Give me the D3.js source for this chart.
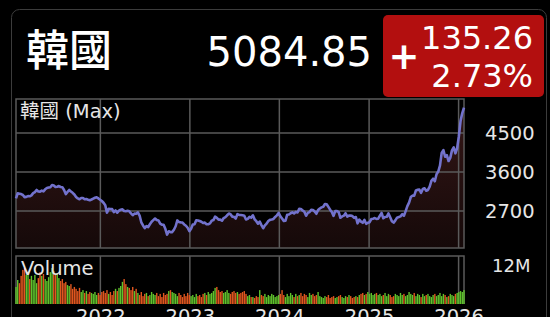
<!DOCTYPE html>
<html><head><meta charset="utf-8">
<script src="https://cdn.jsdelivr.net/npm/d3@7"></script>
<style>html,body{margin:0;padding:0;background:#000;overflow:hidden}</style>
</head><body>
<svg id="c" width="550" height="317"></svg>
<script>
// ---------- data ----------
const title = "韓國";
const lastValue = "5084.85";
const change = "135.26";
const changePct = "2.73%";
const panelLabel = "韓國 (Max)";
const volumeLabel = "Volume";
const priceTicks = [2700, 3600, 4500];
const volumeTicks = [12];
const yearTicks = [2022, 2023, 2024, 2025, 2026];
const startDate = "2021-01-22"; // weekly closes (Fridays)

const close2021 = [2990,3110,3100,3090,3070,3020,3026,3045,3039,3060,3112,3135,3185,3150,3147,3170,3153,3200,3230,3240,3249,3300,3290,3255,3260,3276,3254,3250,3185,3090,3140,3185,3150,3120,3080,3023,2990,2970,3000,3000,2970,2975,2960,2950,2965,2985,3005,3015,2990,2960];
const close2022 = [2930,2890,2834,2663,2750,2747,2744,2676,2713,2661,2707,2729,2739,2700,2696,2704,2695,2644,2604,2639,2638,2670,2595,2440,2366,2305,2350,2330,2393,2451,2490,2527,2492,2481,2409,2384,2382,2290,2155,2232,2212,2213,2268,2348,2483,2444,2437,2434,2389,2360,2313,2236];
const close2023 = [2289,2386,2395,2484,2480,2469,2451,2423,2432,2394,2395,2414,2476,2490,2571,2544,2501,2500,2475,2537,2559,2601,2641,2625,2570,2564,2526,2628,2609,2608,2602,2591,2504,2519,2563,2547,2601,2508,2465,2408,2456,2375,2302,2368,2409,2469,2496,2505,2517,2563,2599,2655];
const close2024 = [2578,2525,2472,2478,2615,2620,2648,2667,2642,2680,2666,2748,2747,2714,2681,2591,2656,2676,2727,2724,2687,2636,2722,2758,2784,2797,2862,2857,2795,2731,2676,2588,2697,2701,2674,2544,2575,2593,2649,2569,2596,2593,2583,2542,2561,2416,2501,2455,2428,2494,2404,2429];
const close2025 = [2441,2515,2523,2536,2517,2522,2591,2654,2532,2563,2566,2643,2557,2465,2432,2483,2546,2559,2577,2626,2592,2697,2812,2894,3021,3055,3054,3175,3188,3196,3119,3210,3225,3168,3186,3260,3396,3445,3386,3549,3610,3748,4040,4107,3953,3990,3853,3926,4100,4167,4030,4150];
const close2026 = [4420,4780,4960,5084.85];

const vol2021 = [5.4,7.6,6.6,8.9,10.8,11.4,9.2,10.1,7.9,8.9,7.6,9.2,6.6,8.2,10.1,8.9,9.5,7.9,7.3,8.5,10.1,11.4,10.5,9.2,9.8,8.2,7.3,7.9,6.6,7.0,6.0,5.7,6.3,4.8,5.4,4.8,4.1,5.1,3.8,4.4,3.5,4.1,3.2,3.8,3.5,3.2,3.8,2.85,3.5,2.85];
const vol2022 = [3.8,4.1,3.5,4.4,3.2,3.8,2.85,4.1,4.8,4.1,5.1,5.7,7.0,7.9,6.3,5.4,5.1,4.4,5.4,4.1,4.8,3.5,2.85,3.8,2.5,3.2,3.5,2.5,2.85,3.8,3.2,2.85,3.5,2.5,3.2,2.2,3.5,2.85,3.2,4.1,4.4,3.8,3.5,3.2,2.5,3.5,2.85,2.2,3.2,2.5,3.5,2.85];
const vol2023 = [2.5,2.85,2.2,3.2,2.5,2.85,2.2,3.2,3.5,2.85,3.8,3.2,3.5,4.1,5.1,5.4,4.4,3.8,4.1,3.5,3.8,4.4,3.5,3.2,3.8,4.1,3.5,3.8,3.2,3.5,3.8,4.1,3.2,2.5,2.85,2.2,2.2,1.9,2.5,2.2,4.4,2.85,2.5,3.2,2.2,2.85,2.5,3.2,2.85,2.2,2.5,2.85];
const vol2024 = [3.2,4.4,2.85,2.2,3.2,2.5,3.5,2.85,2.2,3.2,2.5,2.85,3.5,2.5,3.2,2.85,2.2,3.5,2.85,3.2,2.5,2.85,3.8,2.5,2.2,1.9,2.5,2.2,2.85,1.9,2.2,2.5,1.9,2.2,2.5,2.85,2.2,1.9,2.5,2.2,2.85,2.5,1.9,2.2,2.5,2.2,2.85,3.2,3.5,2.85,3.2,3.8];
const vol2025 = [3.2,3.5,2.85,3.2,3.5,2.85,3.2,2.5,2.85,3.5,2.5,3.2,2.85,2.2,2.5,3.2,2.85,2.5,3.5,2.85,3.2,2.5,2.85,3.8,3.2,2.85,3.5,2.5,3.2,2.85,2.2,3.2,2.5,2.85,3.2,2.5,2.2,2.85,3.2,2.5,2.85,3.5,2.5,3.2,2.85,2.2,2.5,3.2,2.85,2.5,3.2,3.5];
const vol2026 = [3.8,4.1,3.8,4.4];

// ---------- build ----------
const closes = [].concat(close2021, close2022, close2023, close2024, close2025, close2026);
const volumes = [].concat(vol2021, vol2022, vol2023, vol2024, vol2025, vol2026);
const t0 = d3.timeParse("%Y-%m-%d")(startDate);
const data = closes.map((c, i) => ({
  date: d3.timeDay.offset(t0, 7 * i),
  close: c,
  vol: volumes[i],
  up: i === 0 ? true : c >= closes[i - 1]
}));

const svg = d3.select("#c");
const W = 550, H = 317;
svg.append("rect").attr("width", W).attr("height", H).attr("fill", "#000");

// card outline
svg.append("rect").attr("x", 11.5).attr("y", 9.5).attr("width", 535).attr("height", 400)
  .attr("rx", 8).attr("fill", "none").attr("stroke", "#3c3c3c").attr("stroke-width", 1);

const latin = "'DejaVu Sans', sans-serif";
const cjk = "'Noto Sans CJK TC', 'Noto Sans CJK SC', sans-serif";
const mixed = "'DejaVu Sans', 'Noto Sans CJK TC', sans-serif";

// header
svg.append("text").attr("x", 26).attr("y", 66).attr("font-family", cjk).attr("font-size", 43)
  .attr("font-weight", 500).attr("fill", "#fff").text(title);
svg.append("text").attr("x", 372).attr("y", 66).attr("text-anchor", "end").attr("font-family", latin)
  .attr("font-size", 40).attr("fill", "#fff").text(lastValue);
svg.append("rect").attr("x", 383).attr("y", 15).attr("width", 161).attr("height", 82).attr("rx", 5)
  .attr("fill", "#b30f0f");
svg.append("text").attr("x", 404).attr("y", 69).attr("text-anchor", "middle").attr("font-family", latin)
  .attr("font-weight", "bold").attr("font-size", 37).attr("fill", "#fff").text("+");
svg.append("text").attr("x", 533).attr("y", 49).attr("text-anchor", "end").attr("font-family", latin)
  .attr("font-size", 32).attr("fill", "#fff").text(change);
svg.append("text").attr("x", 533).attr("y", 87).attr("text-anchor", "end").attr("font-family", latin)
  .attr("font-size", 32).attr("fill", "#fff").text(changePct);

// scales
const x = d3.scaleTime().domain(d3.extent(data, d => d.date)).range([16, 464]);
const y = d3.scaleLinear().domain([1846, 5285]).range([248, 99]);
const yv = d3.scaleLinear().domain([0, 15.2]).range([304, 256]);
const yearDates = yearTicks.map(yr => new Date(yr, 0, 1));

const gridCol = "#5a5a5a";

// gradient fill
const defs = svg.append("defs");
const grad = defs.append("linearGradient").attr("id", "fillGrad").attr("gradientUnits", "userSpaceOnUse")
  .attr("x1", 0).attr("x2", 0).attr("y1", 99).attr("y2", 248);
grad.append("stop").attr("offset", 0).attr("stop-color", "#361717");
grad.append("stop").attr("offset", 1).attr("stop-color", "#150909");

// price area + line
const area = d3.area().x(d => x(d.date)).y0(248).y1(d => y(d.close));
svg.append("path").datum(data).attr("d", area).attr("fill", "url(#fillGrad)");

// grid (price)
const gp = svg.append("g");
gp.selectAll(".h").data(priceTicks).join("line")
  .attr("x1", 16).attr("x2", 464).attr("y1", d => y(d)).attr("y2", d => y(d))
  .attr("stroke", gridCol).attr("stroke-width", 1.5);
gp.selectAll(".v").data(yearDates).join("line")
  .attr("x1", d => x(d)).attr("x2", d => x(d)).attr("y1", 99).attr("y2", 248)
  .attr("stroke", gridCol).attr("stroke-width", 1.5);
gp.append("rect").attr("x", 16).attr("y", 99).attr("width", 448).attr("height", 149)
  .attr("fill", "none").attr("stroke", gridCol).attr("stroke-width", 1.5);

const line = d3.line().x(d => x(d.date)).y(d => y(d.close));
svg.append("path").datum(data).attr("d", line).attr("fill", "none")
  .attr("stroke", "#7272cc").attr("stroke-width", 2.6).attr("stroke-linejoin", "round");

// volume grid
const gv = svg.append("g");
gv.selectAll("line").data(yearDates).join("line")
  .attr("x1", d => x(d)).attr("x2", d => x(d)).attr("y1", 256).attr("y2", 304)
  .attr("stroke", gridCol).attr("stroke-width", 1.5);
gv.append("path").attr("d", "M16,304V256H464V304")
  .attr("fill", "none").attr("stroke", gridCol).attr("stroke-width", 1.5);

// volume bars
svg.append("g").selectAll("rect").data(data).join("rect")
  .attr("x", d => x(d.date) - 0.7).attr("width", 1.4)
  .attr("y", d => yv(d.vol)).attr("height", d => 304 - yv(d.vol))
  .attr("fill", d => d.up ? "#5fc22c" : "#e0561f");

// labels
svg.append("text").attr("x", 20).attr("y", 118).attr("font-family", mixed).attr("font-size", 19.5)
  .attr("fill", "#e6e6e6").text(panelLabel);
svg.append("text").attr("x", 21).attr("y", 275).attr("font-family", latin).attr("font-size", 19.5)
  .attr("fill", "#e6e6e6").text(volumeLabel);

// axes
const ay = svg.append("g").attr("transform", "translate(480,0)")
  .call(d3.axisRight(y).tickValues(priceTicks).tickSize(0).tickPadding(5).tickFormat(d3.format("d")));
const av = svg.append("g").attr("transform", "translate(480,0)")
  .call(d3.axisRight(yv).tickValues(volumeTicks).tickSize(0).tickPadding(12).tickFormat(d => d + "M"));
const ax = svg.append("g").attr("transform", "translate(0,304)")
  .call(d3.axisBottom(x).tickValues(yearDates).tickSize(0).tickPadding(5).tickFormat(d3.timeFormat("%Y")));
[ay, ax].forEach(g => {
  g.select(".domain").remove();
  g.selectAll("text").attr("font-family", latin).attr("font-size", 19.5).attr("fill", "#e6e6e6");
});
av.select(".domain").remove();
av.selectAll("text").attr("font-family", latin).attr("font-size", 18).attr("fill", "#e6e6e6");
</script>
</body></html>
